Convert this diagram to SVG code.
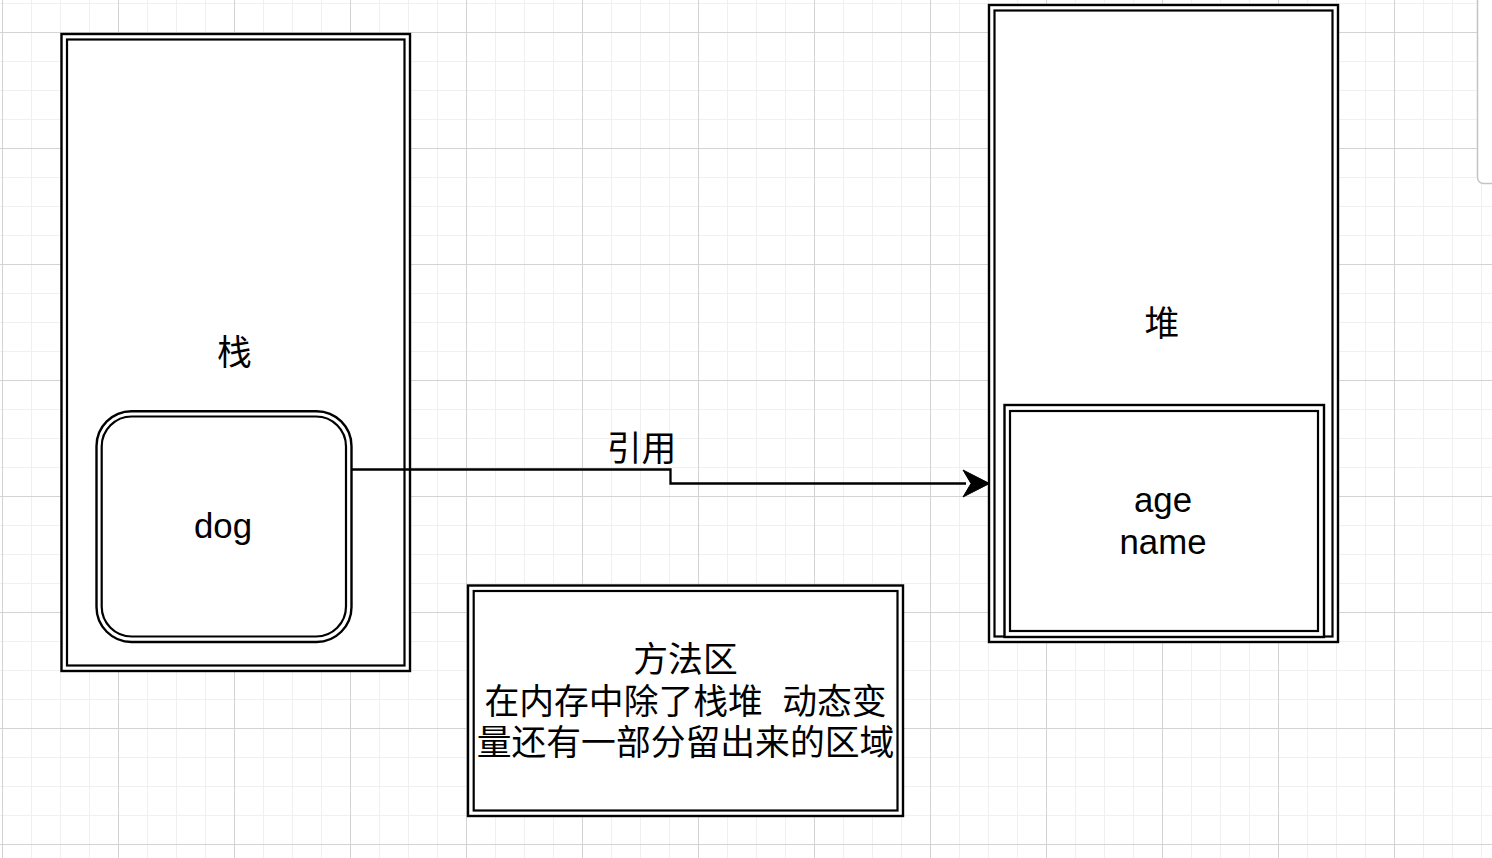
<svg xmlns="http://www.w3.org/2000/svg" width="1492" height="858" viewBox="0 0 1492 858">
<style>
.o{fill:#fff;stroke:#000;stroke-width:2.4}
.i{fill:none;stroke:#000;stroke-width:2.2}
.t{font-family:"Liberation Sans","Noto Sans CJK SC",sans-serif;font-size:34.8px;fill:#000;text-anchor:middle}
.e{fill:none;stroke:#000;stroke-width:2.3}
</style>
<defs>
<pattern id="grid" x="2" y="3" width="116" height="116" patternUnits="userSpaceOnUse">
<path d="M0.5 0V116M29.5 0V116M58.5 0V116M87.5 0V116M0 0.5H116M0 58.5H116M0 87.5H116" stroke="#f0f0f0" stroke-width="1" fill="none"/>
<path d="M0.5 0V116M0 29.5H116" stroke="#d3d3d3" stroke-width="1" fill="none"/>
</pattern>
</defs>
<rect x="0" y="0" width="1492" height="858" fill="#fff"/>
<rect x="0" y="0" width="1492" height="858" fill="url(#grid)"/>
<rect x="1477.5" y="-10" width="30" height="193.5" rx="6" fill="#fff" stroke="#c4c4c4" stroke-width="1.5"/>

<g id="stack">
<rect class="o" x="61.5" y="34" width="348.5" height="637"/>
<rect class="i" x="67" y="39.5" width="337.5" height="626"/>
<text class="t" x="234.5" y="364.5">栈</text>
</g>

<g id="dog">
<rect class="o" x="96.5" y="411.2" width="255" height="230.8" rx="35"/>
<rect class="i" x="101.7" y="416.5" width="244.3" height="220" rx="30"/>
<text class="t" x="223" y="538">dog</text>
</g>

<g id="heap">
<rect class="o" x="989" y="5" width="349" height="637"/>
<rect class="i" x="994.5" y="10.5" width="338" height="626"/>
<text class="t" x="1162" y="336">堆</text>
</g>

<g id="object">
<rect class="o" x="1004.5" y="405" width="319.5" height="232"/>
<rect class="i" x="1010" y="411" width="308" height="220"/>
<text class="t" x="1163" y="512">age</text>
<text class="t" x="1163" y="553.8">name</text>
</g>

<g id="method">
<rect class="o" x="468" y="585.5" width="435" height="230.5"/>
<rect class="i" x="473.7" y="591" width="423.8" height="219.5"/>
<text class="t" x="685.5" y="671.5">方法区</text>
<text class="t" x="685.5" y="713.5" xml:space="preserve">在内存中除了栈堆  动态变</text>
<text class="t" x="685.5" y="755">量还有一部分留出来的区域</text>
</g>

<g id="connectors">
<path class="e" d="M352 469.5H670.5V483.5H966"/>
<polygon points="989.5,483.5 963,470 971,483.5 963,497" fill="#000" stroke="#000" stroke-width="1"/>
<text class="t" x="641.5" y="461">引用</text>
</g>
</svg>
